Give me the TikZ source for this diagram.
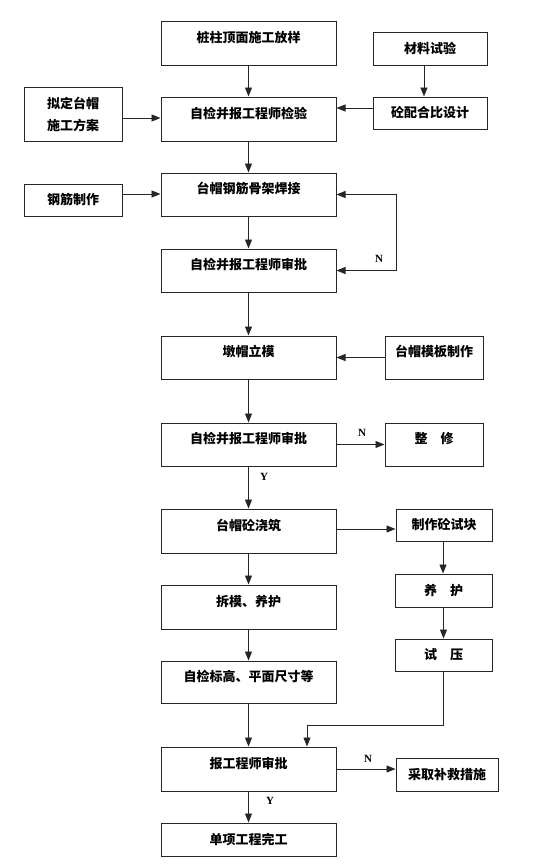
\documentclass[tikz,border=0pt]{standalone}
\usepackage{fontspec}
\newfontfamily\cjk{Noto Sans CJK SC}
\newfontfamily\lat{Liberation Serif}
\usetikzlibrary{arrows.meta,calc}
\tikzset{
  box/.style={draw=black!85, line width=1pt, rectangle, inner sep=0pt, align=center,
    font=\cjk\bfseries\fontsize{13}{22}\selectfont},
  mainbox/.style={box, minimum width=175pt, minimum height=44pt, text height=10pt, text depth=12pt},
  sidebox/.style={box, minimum height=33pt},
  arr/.style={draw=black!85, line width=0.9pt, -{Triangle[length=9pt,width=7pt]}},
  yn/.style={font=\lat\bfseries\fontsize{11}{11}\selectfont, inner sep=0pt}
}
\begin{document}
\begin{tikzpicture}[x=1pt,y=-1pt]
\useasboundingbox (0,0) rectangle (554,868);
% main column
\node[mainbox] (b1) at (248.5,43) {桩柱顶面施工放样};
\node[mainbox] (b2) at (248.5,119) {自检并报工程师检验};
\node[mainbox, minimum height=43pt] (b3) at (248.5,194.5) {台帽钢筋骨架焊接};
\node[mainbox, minimum height=43pt] (b4) at (248.5,270.5) {自检并报工程师审批};
\node[mainbox, minimum height=43pt] (b5) at (248.5,357.5) {墩帽立模};
\node[mainbox, minimum height=43pt] (b6) at (248.5,444.5) {自检并报工程师审批};
\node[mainbox] (b7) at (248.5,531) {台帽砼浇筑};
\node[mainbox] (b8) at (248.5,607) {拆模、养护};
\node[mainbox, minimum height=42pt] (b9) at (248.5,682) {自检标高、平面尺寸等};
\node[mainbox] (b10) at (248.5,769) {报工程师审批};
\node[box, minimum width=175pt, minimum height=33pt] (b11) at (248.5,839.5) {单项工程完工};
% side boxes
\node[sidebox, minimum width=114pt] (mat) at (430,48.5) {材料试验};
\node[sidebox, minimum width=114pt, minimum height=32pt] (mix) at (430,113) {砼配合比设计};
\node[box, minimum width=98pt, minimum height=54pt] (plan) at (73,114) {拟定台帽\\施工方案};
\node[sidebox, minimum width=98pt, minimum height=32pt] (steel) at (73,200) {钢筋制作};
\node[box, minimum width=98pt, minimum height=43pt, text height=10pt, text depth=12pt] (form) at (434,357.5) {台帽模板制作};
\node[box, minimum width=98pt, minimum height=43pt, text height=10pt, text depth=12pt] (fix) at (434,444.5) {整\quad 修};
\node[sidebox, minimum width=96pt, minimum height=32pt] (spec) at (444,525) {制作砼试块};
\node[sidebox, minimum width=97pt] (cure) at (443.5,590.5) {养\quad 护};
\node[sidebox, minimum width=97pt, minimum height=32pt] (test) at (443.5,655) {试\quad 压};
\node[sidebox, minimum width=102pt] (rem) at (447,774.5) {采取补救措施};
% connectors
\draw[arr] (b1) -- (b2);
\draw[arr] ([xshift=-6pt]mat.south) -- ([xshift=-6pt]mix.north);
\draw[arr] ([yshift=5pt]mix.west) -- ([yshift=5pt]mix.west -| b2.east);
\draw[arr] ([yshift=-4pt]plan.east) -- ([yshift=-4pt]plan.east -| b2.west);
\draw[arr] (b2) -- (b3);
\draw[arr] ([yshift=6pt]steel.east) -- ([yshift=6pt]steel.east -| b3.west);
\draw[arr] (b3) -- (b4);
\draw[draw=black!85, line width=0.9pt, {Triangle[length=9pt,width=7pt]}-{Triangle[length=9pt,width=7pt]}] (b3.east) -- ++(60,0) |- (b4.east);
\node[yn] (n1) at (379,259) {N};
\draw[arr] (b4) -- (b5);
\draw[arr] (form.west) -- (b5.east);
\draw[arr] (b5) -- (b6);
\draw[arr] (b6.east) -- (fix.west);
\node[yn] (n2) at (362,433) {N};
\draw[arr] (b6) -- (b7);
\node[yn] (y1) at (264,477) {Y};
\draw[arr] ([yshift=2pt]b7.east) -- ([yshift=2pt]b7.east -| spec.west);
\draw[arr] ([xshift=-1pt]spec.south) -- ([xshift=-0.5pt]cure.north);
\draw[arr] (cure) -- (test);
\draw[arr] (b7) -- (b8);
\draw[arr] (b8) -- (b9);
\draw[arr] (b9) -- (b10);
\draw[arr] (test.south) -- ++(0,54) -| ([xshift=58.5pt]b10.north);
\draw[arr] (b10.east) -- (b10.east -| rem.west);
\node[yn] (n3) at (368,759) {N};
\draw[arr] (b10) -- (b11);
\node[yn] (y2) at (270,801) {Y};
\end{tikzpicture}
\end{document}
